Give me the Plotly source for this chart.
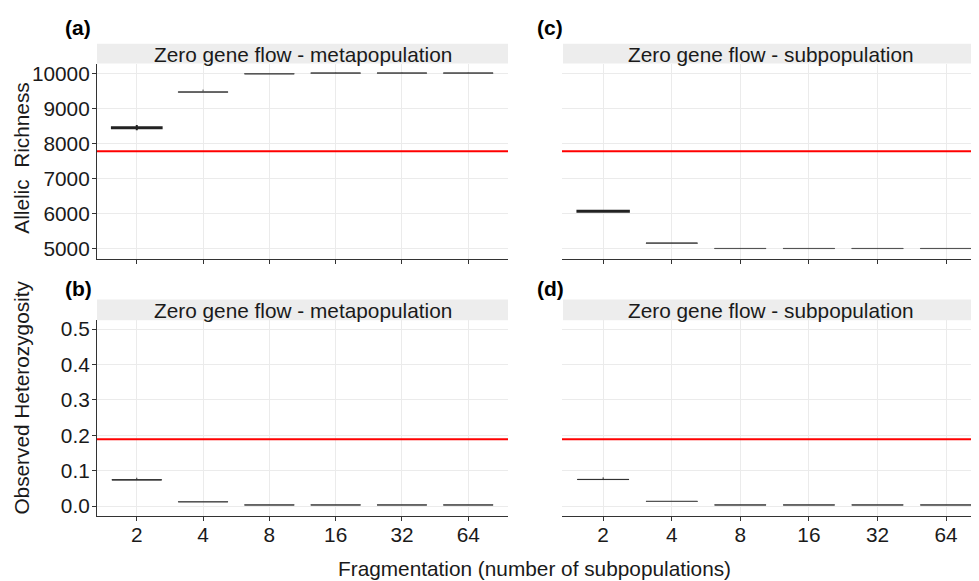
import plotly.graph_objects as go

# ---------------- data ----------------
cats = ["2", "4", "8", "16", "32", "64"]

# (a) Allelic richness - metapopulation
ar_meta_med = [8455, 9470, 9990, 10010, 10010, 10010]
ar_meta_q1 = [8440, 9465, 9988, 10008, 10008, 10008]
ar_meta_q3 = [8470, 9475, 9992, 10012, 10012, 10012]
ar_meta_lo = [8380, 9460, 9985, 10005, 10005, 10005]
ar_meta_hi = [8530, 9540, 9995, 10030, 10030, 10030]

# (c) Allelic richness - subpopulation
ar_sub_med = [6075, 5165, 5012, 5012, 5012, 5012]
ar_sub_q1 = [6062, 5162, 5010, 5010, 5010, 5010]
ar_sub_q3 = [6088, 5168, 5014, 5014, 5014, 5014]
ar_sub_lo = [6050, 5158, 5008, 5008, 5008, 5008]
ar_sub_hi = [6110, 5172, 5016, 5016, 5016, 5016]

# (b) Observed heterozygosity - metapopulation
ho_meta_med = [0.074, 0.012, 0.003, 0.003, 0.003, 0.003]
ho_meta_q1 = [0.0738, 0.0118, 0.0029, 0.0029, 0.0029, 0.0029]
ho_meta_q3 = [0.0742, 0.0122, 0.0031, 0.0031, 0.0031, 0.0031]
ho_meta_lo = [0.0735, 0.0115, 0.0028, 0.0028, 0.0028, 0.0028]
ho_meta_hi = [0.080, 0.0125, 0.0032, 0.0032, 0.0032, 0.0032]

# (d) Observed heterozygosity - subpopulation
ho_sub_med = [0.075, 0.013, 0.003, 0.003, 0.003, 0.003]
ho_sub_q1 = [0.0748, 0.0128, 0.0029, 0.0029, 0.0029, 0.0029]
ho_sub_q3 = [0.0752, 0.0132, 0.0031, 0.0031, 0.0031, 0.0031]
ho_sub_lo = [0.0745, 0.0125, 0.0028, 0.0028, 0.0028, 0.0028]
ho_sub_hi = [0.081, 0.0135, 0.0032, 0.0032, 0.0032, 0.0032]

ar_ref = 7780
ho_ref = 0.189

ar_ticks = [5000, 6000, 7000, 8000, 9000, 10000]
ar_ticklabels = ["5000", "6000", "7000", "8000", "9000", "10000"]
ho_ticks = [0.0, 0.1, 0.2, 0.3, 0.4, 0.5]
ho_ticklabels = ["0.0", "0.1", "0.2", "0.3", "0.4", "0.5"]

strip_meta = "Zero gene flow - metapopulation"
strip_sub = "Zero gene flow - subpopulation"

# ---------------- figure ----------------
OFF = 8  # default page body margin
W, H = 979 - OFF, 581 - OFF
FONT = "Liberation Sans, Arial, sans-serif"
FS = 20.8


def px_x(v):
    return (v - OFF) / W


def px_y(v):
    return 1 - (v - OFF) / H


fig = go.Figure()

panels = [
    ("x", "y", ar_meta_q1, ar_meta_med, ar_meta_q3, ar_meta_lo, ar_meta_hi, True),
    ("x2", "y2", ar_sub_q1, ar_sub_med, ar_sub_q3, ar_sub_lo, ar_sub_hi, True),
    ("x3", "y3", ho_meta_q1, ho_meta_med, ho_meta_q3, ho_meta_lo, ho_meta_hi, False),
    ("x4", "y4", ho_sub_q1, ho_sub_med, ho_sub_q3, ho_sub_lo, ho_sub_hi, False),
]

for xa, ya, q1, med, q3, lo, hi, bold_first in panels:
    for i, c in enumerate(cats):
        if i == 0 and bold_first:
            lc, lw = "#222222", 2
        elif i == 0:
            lc, lw = "#333333", 1
        else:
            lc, lw = "#555555", 1
        fig.add_trace(go.Box(
            x=[c], q1=[q1[i]], median=[med[i]], q3=[q3[i]],
            lowerfence=[lo[i]], upperfence=[hi[i]],
            xaxis=xa, yaxis=ya, width=0.75, whiskerwidth=0,
            fillcolor="rgba(255,255,255,0)", line=dict(color=lc, width=lw),
            boxpoints=False, showlegend=False, hoverinfo="skip",
        ))

left_dom = [px_x(97), px_x(508)]
right_dom = [px_x(562), 1.0]
top_dom = [px_y(258), px_y(61)]
bot_dom = [px_y(517), px_y(320)]

grid = "#EBEBEB"
common_x = dict(type="category", categoryorder="array", categoryarray=cats,
                showgrid=True, gridcolor=grid, gridwidth=1,
                showline=True, linecolor="#333333", linewidth=1.2,
                ticks="outside", ticklen=4, tickcolor="#333333", tickwidth=1,
                ticklabelstandoff=-4,
                tickfont=dict(family=FONT, size=FS, color="#1A1A1A"),
                zeroline=False, fixedrange=True)
common_y = dict(showgrid=True, gridcolor=grid, gridwidth=1, zeroline=False,
                tickfont=dict(family=FONT, size=FS, color="#1A1A1A"),
                fixedrange=True)

fig.update_layout(
    width=W, height=H, margin=dict(l=0, r=0, t=0, b=0),
    paper_bgcolor="white", plot_bgcolor="white",
    font=dict(family=FONT, color="#1A1A1A"),
    boxmode="overlay",
    xaxis=dict(common_x, domain=left_dom, anchor="y", range=[-0.6, 5.6], showticklabels=False),
    xaxis2=dict(common_x, domain=right_dom, anchor="y2", range=[-0.6, 5.48], showticklabels=False),
    xaxis3=dict(common_x, domain=left_dom, anchor="y3", range=[-0.6, 5.6]),
    xaxis4=dict(common_x, domain=right_dom, anchor="y4", range=[-0.6, 5.48]),
    yaxis=dict(common_y, domain=top_dom, anchor="x", range=[4718, 10282],
               tickvals=ar_ticks, ticktext=ar_ticklabels, showline=True,
               linecolor="#333333", linewidth=1.2, ticklabelstandoff=-2,
               ticks="outside", ticklen=4, tickcolor="#333333"),
    yaxis2=dict(common_y, domain=top_dom, anchor="x2", range=[4718, 10282],
                tickvals=ar_ticks, showticklabels=False, showline=False, ticks=""),
    yaxis3=dict(common_y, domain=bot_dom, anchor="x3", range=[-0.027, 0.525],
                tickvals=ho_ticks, ticktext=ho_ticklabels, showline=True,
                linecolor="#333333", linewidth=1.2, ticks="outside", ticklen=4,
                ticklabelstandoff=-2, tickcolor="#333333"),
    yaxis4=dict(common_y, domain=bot_dom, anchor="x4", range=[-0.027, 0.525],
                tickvals=ho_ticks, showticklabels=False, showline=False, ticks=""),
)

shapes = []
annotations = []

# strips
strip_fill = "#EDEDED"
for (x0, x1, y0, y1, text) in [
    (97, 508, 41, 61, strip_meta),
    (563, 979, 41, 61, strip_sub),
    (97, 508, 299, 320, strip_meta),
    (563, 979, 299, 320, strip_sub),
]:
    shapes.append(dict(type="rect", xref="paper", yref="paper",
                       x0=px_x(x0), x1=px_x(x1), y0=px_y(y1), y1=px_y(y0),
                       fillcolor=strip_fill, line=dict(width=0), layer="below"))
    annotations.append(dict(xref="paper", yref="paper", x=px_x((x0 + x1) / 2),
                            y=px_y((y0 + y1) / 2 + 1), text=text, showarrow=False,
                            xanchor="center", yanchor="middle",
                            font=dict(family=FONT, size=FS, color="#1A1A1A")))

# reference lines
for xa, ya, val in [("x", "y", ar_ref), ("x2", "y2", ar_ref),
                    ("x3", "y3", ho_ref), ("x4", "y4", ho_ref)]:
    shapes.append(dict(type="line", xref=xa + " domain", yref=ya, x0=0, x1=1,
                       y0=val, y1=val, line=dict(color="#FF0000", width=2)))

# panel labels
for x, y, t in [(78, 25, "(a)"), (550, 25, "(c)"), (78, 288, "(b)"), (550, 288, "(d)")]:
    annotations.append(dict(xref="paper", yref="paper", x=px_x(x), y=px_y(y),
                            text="<b>" + t + "</b>", showarrow=False,
                            xanchor="center", yanchor="middle",
                            font=dict(family=FONT, size=21, color="black")))

# axis titles
annotations.append(dict(xref="paper", yref="paper", x=px_x(22), y=px_y(157),
                        text="Allelic&nbsp; Richness", textangle=-90, showarrow=False,
                        xanchor="center", yanchor="middle",
                        font=dict(family=FONT, size=FS, color="#1A1A1A")))
annotations.append(dict(xref="paper", yref="paper", x=px_x(22), y=px_y(398),
                        text="Observed Heterozygosity", textangle=-90, showarrow=False,
                        xanchor="center", yanchor="middle",
                        font=dict(family=FONT, size=FS, color="#1A1A1A")))
annotations.append(dict(xref="paper", yref="paper", x=px_x(534), y=px_y(570),
                        text="Fragmentation (number of subpopulations)", showarrow=False,
                        xanchor="center", yanchor="middle",
                        font=dict(family=FONT, size=FS, color="#1A1A1A")))

fig.update_layout(shapes=shapes, annotations=annotations)

fig.write_html("out.html")
